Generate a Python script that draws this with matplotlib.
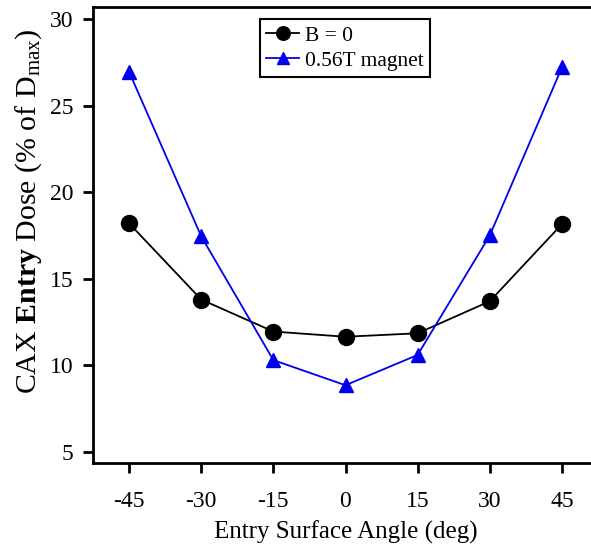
import matplotlib
matplotlib.use("Agg")
import matplotlib.pyplot as plt

# data
angles = [-45, -30, -15, 0, 15, 30, 45]
dose_b0 = [18.2, 13.8, 11.95, 11.65, 11.85, 13.7, 18.15]
dose_mag = [26.95, 17.45, 10.3, 8.85, 10.6, 17.5, 27.2]
xticks = [-45, -30, -15, 0, 15, 30, 45]
yticks = [5, 10, 15, 20, 25, 30]

plt.rcParams['font.family'] = ['Liberation Serif', 'DejaVu Serif']
plt.rcParams['mathtext.fontset'] = 'custom'
plt.rcParams['mathtext.rm'] = 'Liberation Serif'
plt.rcParams['mathtext.bf'] = 'Liberation Serif:bold'
plt.rcParams['mathtext.it'] = 'Liberation Serif:italic'

W, H = 591, 545
fig = plt.figure(figsize=(W/100, H/100), dpi=100)
ax = fig.add_axes([93/W, (H-463)/H, (598-93)/W, (463-7)/H])

ax.plot(angles, dose_b0, color='black', lw=1.3, marker='o', ms=11.5, label='B = 0')
ax.plot(angles, dose_mag, color='#0000ee', lw=1.3, marker='^', ms=10.5, label='0.56T magnet')

ax.set_xlim(-52.5, 52.5)
ax.set_ylim(4.36, 30.69)
ax.set_xticks(xticks)
ax.set_xticklabels([str(v) for v in xticks])
ax.set_yticks(yticks)
ax.tick_params(direction='out', length=7, width=2, labelsize=17, pad=7)
ax.tick_params(axis='x', pad=13)
for s in ax.spines.values():
    s.set_linewidth(2)

ax.set_xlabel('Entry Surface Angle (deg)', fontsize=18, labelpad=6)
ax.set_ylabel(r'CAX $\mathbf{Entry}$ Dose (% of D$_{\mathrm{max}}$)', fontsize=21.5, labelpad=4)
ax.yaxis.label.set_y((463-211)/456)

leg = ax.legend(loc='upper left', bbox_to_anchor=(260/W, 1-19/H), bbox_transform=fig.transFigure,
                fancybox=False, framealpha=1, edgecolor='black', fontsize=15.5,
                handlelength=1.5, borderpad=0.3, labelspacing=0.25, handletextpad=0.3, borderaxespad=0,
                markerscale=0.85)
leg.get_frame().set_linewidth(1.5)

fig.savefig('out.png', dpi=100)
